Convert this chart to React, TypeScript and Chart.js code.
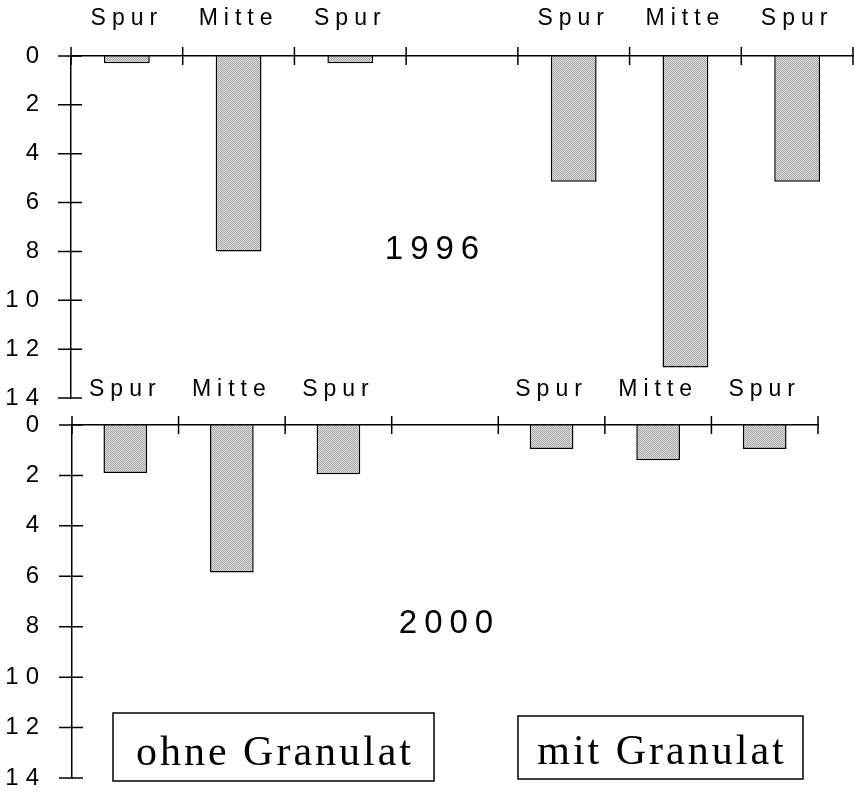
import React, { useEffect, useRef } from 'react';
import { Chart, registerables } from 'chart.js';

Chart.register(...registerables);

// ---- data ----
const categories = ['Spur', 'Mitte', 'Spur', '', 'Spur', 'Mitte', 'Spur'];
const values1996: (number | null)[] = [0.3, 8.0, 0.3, null, 5.15, 12.75, 5.15];
const values2000: (number | null)[] = [1.9, 5.85, 1.95, null, 0.95, 1.4, 0.95];
const yMin = 0;
const yMax = 14;
const yStep = 2;
const yearLabels = ['1996', '2000'];
const groupLabels = ['ohne Granulat', 'mit Granulat'];

const SANS = '"Liberation Sans", Arial, sans-serif';
const SERIF = '"Liberation Serif", "Times New Roman", serif';

type Box = { x1: number; y1: number; x2: number; y2: number; text: string; baseline: number };
type Panel = {
  top: number;
  height: number;
  area: { left: number; right: number; top: number; bottom: number };
  xPad: number;
  yPad: number;
  year: { text: string; cx: number; baseline: number };
  boxes: Box[];
};

const W = 854;

const PANELS: Panel[] = [
  {
    top: 0,
    height: 420,
    area: { left: 71, right: 853, top: 56, bottom: 398 },
    xPad: 24,
    yPad: 25,
    year: { text: yearLabels[0], cx: 432, baseline: 259 },
    boxes: [],
  },
  {
    top: 360,
    height: 432,
    area: { left: 72, right: 818, top: 65, bottom: 418 },
    xPad: 22,
    yPad: 26,
    year: { text: yearLabels[1], cx: 446, baseline: 273 },
    boxes: [
      { x1: 113, y1: 353, x2: 434, y2: 421, text: groupLabels[0], baseline: 405 },
      { x1: 518, y1: 356, x2: 803, y2: 419, text: groupLabels[1], baseline: 404 },
    ],
  },
];

function makePattern(ctx: CanvasRenderingContext2D) {
  const c = document.createElement('canvas');
  c.width = 2;
  c.height = 2;
  const p = c.getContext('2d')!;
  p.fillStyle = '#dcdcdc';
  p.fillRect(0, 0, 2, 2);
  p.fillStyle = '#a8a8a8';
  p.fillRect(0, 0, 1, 1);
  p.fillRect(1, 1, 1, 1);
  return ctx.createPattern(c, 'repeat') as CanvasPattern;
}

function spacedText(ctx: CanvasRenderingContext2D, text: string, cx: number, baseline: number, ls: number) {
  (ctx as any).letterSpacing = ls + 'px';
  ctx.textAlign = 'left';
  ctx.textBaseline = 'alphabetic';
  const w = ctx.measureText(text).width;
  ctx.fillText(text, cx - (w - ls) / 2, baseline);
}

function makeChart(canvas: HTMLCanvasElement, values: (number | null)[], cfg: Panel) {
  const ctx = canvas.getContext('2d')!;
  const pattern = makePattern(ctx);
  const area = cfg.area;

  const panelPlugin = {
    id: 'panelDecor',
    beforeDraw(chart: any) {
      (chart.ctx as any).letterSpacing = '7px';
    },
    afterDatasetsDraw(chart: any) {
      (chart.ctx as any).letterSpacing = '6px';
    },
    afterDraw(chart: any) {
      const c: CanvasRenderingContext2D = chart.ctx;
      const xs = chart.scales.x;
      const ys = chart.scales.y;
      c.save();
      (c as any).letterSpacing = '0px';
      c.strokeStyle = '#000';
      c.lineWidth = 1.5;
      // crossing tick marks on the category axis (at category boundaries)
      const step = xs.getPixelForValue(1) - xs.getPixelForValue(0);
      const y0 = ys.getPixelForValue(yMin);
      c.beginPath();
      for (let i = 0; i <= categories.length; i++) {
        const x = xs.getPixelForValue(i) - step / 2;
        c.moveTo(x, y0 - 9);
        c.lineTo(x, y0 + 9);
      }
      // crossing tick marks on the value axis
      const ax = chart.chartArea.left;
      ys.ticks.forEach((t: any) => {
        const y = ys.getPixelForValue(t.value);
        c.moveTo(ax - 13, y);
        c.lineTo(ax + 11, y);
      });
      c.stroke();

      // year label
      c.fillStyle = '#000';
      c.font = '33px ' + SANS;
      spacedText(c, cfg.year.text, cfg.year.cx, cfg.year.baseline, 7);

      // group boxes
      cfg.boxes.forEach((b) => {
        c.lineWidth = 1.5;
        c.strokeRect(b.x1, b.y1, b.x2 - b.x1, b.y2 - b.y1);
        c.font = '42px ' + SERIF;
        spacedText(c, b.text, (b.x1 + b.x2) / 2, b.baseline, 3);
      });
      (c as any).letterSpacing = '0px';
      c.restore();
      (c as any).letterSpacing = '0px';
    },
  };

  return new Chart(ctx, {
    type: 'bar',
    data: {
      labels: categories,
      datasets: [
        {
          data: values as any,
          backgroundColor: pattern as any,
          borderColor: '#000',
          borderWidth: 1.5,
          barPercentage: 0.41,
          categoryPercentage: 1,
        },
      ],
    },
    options: {
      animation: false,
      responsive: false,
      maintainAspectRatio: false,
      layout: {
        padding: { left: 0, top: 0, right: W - area.right, bottom: cfg.height - area.bottom },
      },
      plugins: {
        legend: { display: false },
        tooltip: { enabled: false },
        title: { display: false },
      },
      scales: {
        x: {
          type: 'category',
          position: 'top',
          offset: true,
          grid: { display: false, drawTicks: false },
          border: { display: true, color: '#000', width: 1.5, z: 1 } as any,
          ticks: {
            z: 1,
            color: '#000',
            font: { family: SANS, size: 23, lineHeight: 1.2 },
            padding: cfg.xPad,
            maxRotation: 0,
            autoSkip: false,
          },
          afterFit: (s: any) => {
            s.height = area.top;
            s.paddingLeft = 0;
            s.paddingRight = 0;
          },
        },
        y: {
          type: 'linear',
          min: yMin,
          max: yMax,
          reverse: true,
          grid: { display: false, drawTicks: false },
          border: { display: true, color: '#000', width: 1.5 },
          ticks: {
            stepSize: yStep,
            color: '#000',
            font: { family: SANS, size: 24, lineHeight: 1 },
            padding: cfg.yPad,
          },
          afterFit: (s: any) => {
            s.width = area.left;
            s.paddingTop = 0;
            s.paddingBottom = 0;
          },
        },
      },
    } as any,
    plugins: [panelPlugin],
  });
}

export default function App() {
  const topRef = useRef<HTMLCanvasElement>(null);
  const botRef = useRef<HTMLCanvasElement>(null);

  useEffect(() => {
    const c1 = makeChart(topRef.current!, values1996, PANELS[0]);
    const c2 = makeChart(botRef.current!, values2000, PANELS[1]);
    return () => {
      c1.destroy();
      c2.destroy();
    };
  }, []);

  return (
    <div
      style={{
        position: 'absolute',
        left: 0,
        top: 0,
        width: W,
        height: 792,
        overflow: 'hidden',
        background: '#fff',
      }}
    >
      <canvas
        ref={botRef}
        width={W}
        height={PANELS[1].height}
        style={{ position: 'absolute', left: 0, top: PANELS[1].top, display: 'block' }}
      />
      <canvas
        ref={topRef}
        width={W}
        height={PANELS[0].height}
        style={{ position: 'absolute', left: 0, top: PANELS[0].top, display: 'block' }}
      />
    </div>
  );
}
